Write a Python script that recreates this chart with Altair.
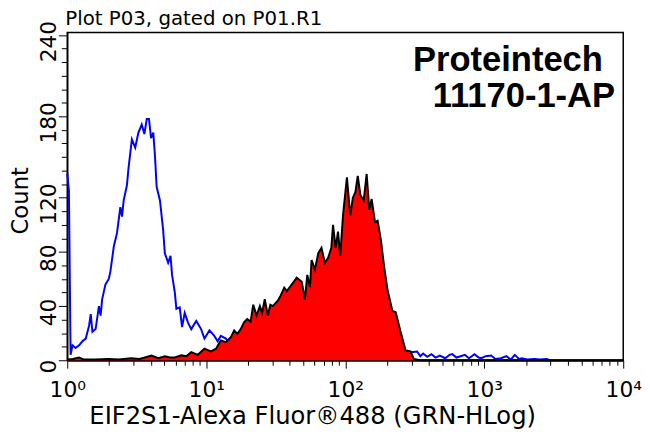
import altair as alt
import pandas as pd

# ---- text ----
TITLE = "Plot P03, gated on P01.R1"
X_TITLE = "EIF2S1-Alexa Fluor®488 (GRN-HLog)"
Y_TITLE = "Count"
BRAND = "Proteintech"
CATALOG = "11170-1-AP"

# ---- axis ticks ----
X_MAJOR = [1, 10, 100, 1000, 10000]
X_LABELS = ["10⁰", "10¹", "10²", "10³", "10⁴"]
X_MINOR = [2, 3, 4, 5, 6, 7, 8, 9,
           20, 30, 40, 50, 60, 70, 80, 90,
           200, 300, 400, 500, 600, 700, 800, 900,
           2000, 3000, 4000, 5000, 6000, 7000, 8000, 9000]
Y_MAJOR = [0, 40, 80, 120, 180, 240]
Y_TICKS = [0, 10, 20, 30, 40, 50, 60, 70, 80, 90, 100, 110, 120,
           130, 140, 150, 160, 170, 180, 190, 200, 210, 220, 230, 240]

# ---- control (blue) histogram: log10 intensity, count ----
blue_log = [0.000, 0.012, 0.024, 0.038, 0.060, 0.085, 0.109, 0.133, 0.157, 0.169,
            0.181, 0.204, 0.228, 0.240, 0.251, 0.275, 0.299, 0.311, 0.335, 0.358,
            0.382, 0.394, 0.406, 0.429, 0.441, 0.465, 0.489, 0.512, 0.536, 0.555,
            0.572, 0.588, 0.603, 0.619, 0.631, 0.643, 0.667, 0.690, 0.702, 0.726,
            0.743, 0.754, 0.774, 0.785, 0.809, 0.826, 0.845, 0.868, 0.892, 0.928,
            0.963, 0.987, 1.023, 1.058, 1.082, 1.105, 1.141, 1.165, 1.250, 1.400,
            1.600, 1.800, 2.000, 2.200, 2.400, 2.517, 2.540, 2.560, 2.590, 2.620,
            2.650, 2.680, 2.720, 2.750, 2.770, 2.800, 2.830, 2.860, 2.890, 2.930,
            2.960, 2.980, 3.010, 3.050, 3.080, 3.120, 3.160, 3.190, 3.220, 3.250,
            3.270, 3.310, 3.360, 3.400, 3.450, 3.470]
blue_count = [138, 125, 4, 11, 9, 11, 14, 16, 25.5, 34,
              21, 23, 40, 33, 45, 56, 60, 66, 84, 94,
              113, 106, 118, 129, 142, 163, 157, 168, 174, 167,
              178, 178, 164, 168, 151, 128, 118, 96, 79, 72,
              77, 63, 50, 38, 39, 24.5, 35, 28, 23, 29,
              23, 16, 22, 18, 14, 18, 16, 12, 10, 8,
              7, 6, 6, 5, 5, 6.5, 3, 5, 2.5, 4.5,
              2, 3.5, 1.5, 4, 4.5, 2, 3, 4, 1.5, 4.5,
              2, 1.5, 3, 3.5, 1, 1.5, 3, 0.5, 4, 1,
              1.5, 0.5, 1, 0.5, 1, 0]

# ---- stained (red) histogram: log10 intensity, count ----
red_log = [0.000, 0.040, 0.085, 0.120, 0.200, 0.300, 0.370, 0.460, 0.520, 0.607,
           0.655, 0.702, 0.740, 0.774, 0.821, 0.856, 0.892, 0.940, 0.987, 1.034,
           1.070, 1.105, 1.141, 1.177, 1.201, 1.224, 1.248, 1.272, 1.295, 1.319,
           1.338, 1.362, 1.386, 1.402, 1.421, 1.443, 1.461, 1.478, 1.497, 1.515,
           1.532, 1.561, 1.580, 1.616, 1.651, 1.687, 1.710, 1.727, 1.746, 1.758,
           1.782, 1.806, 1.829, 1.853, 1.877, 1.900, 1.912, 1.931, 1.948, 1.964,
           1.984, 2.012, 2.036, 2.055, 2.073, 2.090, 2.109, 2.133, 2.154, 2.173,
           2.190, 2.214, 2.233, 2.256, 2.280, 2.304, 2.339, 2.363, 2.399, 2.434,
           2.470, 2.493, 2.540, 4.000]
red_count = [0.5, 1, 2, 0.5, 0.5, 1, 0.5, 1.5, 1, 3.4,
             1.5, 3, 2, 2, 3.6, 3, 6, 4, 8.5, 6.6,
             8.5, 14.6, 13.4, 17, 22, 19.5, 23, 28, 30.4, 28.5,
             41, 33, 40, 35, 45, 33, 41, 40, 42, 44,
             47, 53.6, 51, 56, 61, 58, 45, 63, 54, 74,
             67, 79, 83, 72, 75.7, 83, 100, 83, 95, 77,
             107, 135, 107, 120, 124, 136, 122, 118, 137.5, 111,
             119, 102, 103, 89, 69, 52, 36.5, 35.5, 20.7, 7.3,
             6.6, 1, 0, 0]

blue_df = pd.DataFrame({"intensity": [10 ** v for v in blue_log], "count": blue_count})
red_df = pd.DataFrame({"intensity": [10 ** v for v in red_log], "count": red_count})

FONT = "DejaVu Sans"

label_expr = "''"
for v, lab in reversed(list(zip(X_MAJOR, X_LABELS))):
    label_expr = f"datum.value == {v} ? '{lab}' : {label_expr}"

x_test = "indexof(" + str(X_MAJOR) + ", datum.value) >= 0"
y_test = "indexof(" + str(Y_MAJOR) + ", datum.value) >= 0"

x_axis = alt.Axis(
    values=X_MAJOR + X_MINOR, labelExpr=label_expr, labelOverlap=False, labelFlush=False,
    tickSize={"condition": {"test": x_test, "value": 8}, "value": 5},
    tickColor="black", tickWidth=1, domainColor="black", domainWidth=2,
    labelFont=FONT, labelFontSize=22, labelColor="black", labelPadding=29,
    labelBaseline="alphabetic", grid=False,
    title=X_TITLE, titleFont=FONT, titleFontSize=24.5, titleFontWeight="normal",
    titleColor="black", titleX=248, titleY=64, titleBaseline="alphabetic", titleAlign="center",
)
y_axis = alt.Axis(
    values=Y_TICKS, labelExpr="indexof(" + str(Y_MAJOR) + ", datum.value) >= 0 ? datum.label : ''",
    labelOverlap=False, labelFlush=False,
    tickSize={"condition": {"test": y_test, "value": 9}, "value": 6},
    tickColor="black", tickWidth=1, domainColor="black", domainWidth=1.5,
    labelFont=FONT, labelFontSize=22, labelColor="black", labelPadding=3, labelOffset=6,
    labelAngle=270, labelAlign="center", labelBaseline="alphabetic", grid=False,
    title=Y_TITLE, titleFont=FONT, titleFontSize=23, titleFontWeight="normal",
    titleColor="black", titleX=-40, titleY=170, titleAngle=270,
    titleBaseline="alphabetic", titleAlign="center",
)

x_scale = alt.Scale(type="log", domain=[1, 10000], nice=False)
y_scale = alt.Scale(domain=[0, 242], nice=False)

blue_line = alt.Chart(blue_df).mark_line(color="#0000ff", strokeWidth=2, interpolate="linear").encode(
    x=alt.X("intensity:Q", scale=x_scale, axis=x_axis),
    y=alt.Y("count:Q", scale=y_scale, axis=y_axis),
)
red_area = alt.Chart(red_df).mark_area(
    color="#ff0000", opacity=1, interpolate="linear",
    line={"color": "black", "strokeWidth": 2},
).encode(
    x=alt.X("intensity:Q", scale=x_scale, axis=x_axis),
    y=alt.Y("count:Q", scale=y_scale, axis=y_axis),
)

title_txt = alt.Chart(pd.DataFrame({"label": [TITLE]})).mark_text(
    font=FONT, fontSize=20, align="left", baseline="alphabetic", color="black"
).encode(text="label:N", x=alt.value(-2), y=alt.value(-7))
brand_txt = alt.Chart(pd.DataFrame({"label": [BRAND]})).mark_text(
    font="Liberation Sans", fontWeight="bold", fontSize=35, align="left",
    baseline="alphabetic", color="black"
).encode(text="label:N", x=alt.value(350), y=alt.value(39))
cat_txt = alt.Chart(pd.DataFrame({"label": [CATALOG]})).mark_text(
    font="Liberation Sans", fontWeight="bold", fontSize=35, align="left",
    baseline="alphabetic", color="black"
).encode(text="label:N", x=alt.value(370), y=alt.value(76))

chart = alt.layer(blue_line, red_area, title_txt, brand_txt, cat_txt).properties(
    width=563, height=332,
    padding={"left": 60, "top": 22, "right": 19, "bottom": 75},
    autosize=alt.AutoSizeParams(type="none"),
    background="white",
).configure_view(stroke="black", strokeWidth=1.5)

chart.save("out.html", embed_options={"renderer": "svg", "actions": False})
